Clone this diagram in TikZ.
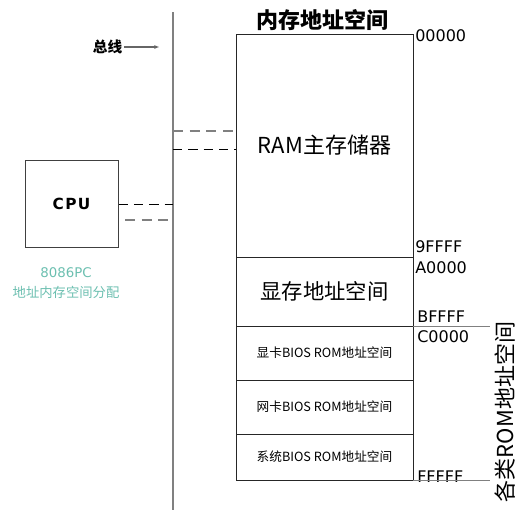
\documentclass[tikz,border=0pt]{standalone}
\usepackage{fontspec}
\setmainfont{DejaVu Sans}
\newfontfamily\cjk{Noto Sans CJK SC}
\usetikzlibrary{arrows.meta}
\definecolor{busgray}{HTML}{808080}
\definecolor{noteteal}{HTML}{6CBFB0}

\begin{document}
\begin{tikzpicture}[x=0.75pt, y=-0.75pt,
    memcell/.style={draw=black!85, line width=0.75pt, minimum width=177*0.75pt,
        inner sep=0pt, outer sep=0pt, font=\cjk\fontsize{9.5}{9.5}\selectfont},
    addr/.style={anchor=west, inner sep=0pt, font=\fontsize{12}{12}\selectfont},
    graydash/.style={busgray, line width=1.5pt, dash pattern=on 7.5pt off 5pt},
    blackdash/.style={black, line width=0.75pt, dash pattern=on 7pt off 4.5pt},
    extline/.style={busgray, line width=0.75pt}]
    \useasboundingbox (0,0) rectangle (530,515);

    % Bus
    \coordinate (bus) at (173,12);
    \coordinate (busend) at (173,510);
    \draw[busgray, line width=1.5pt] (bus) -- (busend);
    \node[inner sep=1pt, font=\cjk\bfseries\fontsize{11}{11}\selectfont] (buslbl) at (107.5,47) {总线};
    \draw[black!60, line width=1pt, -{Latex[length=4pt,width=3pt]}, shorten >=10pt]
        (buslbl.east) -- (buslbl -| bus);

    % Memory address space
    \node[font=\cjk\bfseries\fontsize{16.5}{16.5}\selectfont] (title) at (322,20) {内存地址空间};
    \node[memcell, minimum height=223*0.75pt, font=\cjk\fontsize{16.5}{16.5}\selectfont]
        (ram) at (324.5,145.5) {RAM主存储器};
    \node[memcell, minimum height=69*0.75pt, font=\cjk\fontsize{16}{16}\selectfont]
        (vram) at (324.5,291.5) {显存地址空间};
    \node[memcell, minimum height=54*0.75pt] (vgarom) at (324.5,353) {显卡BIOS ROM地址空间};
    \node[memcell, minimum height=54*0.75pt] (netrom) at (324.5,407) {网卡BIOS ROM地址空间};
    \node[memcell, minimum height=46*0.75pt] (sysrom) at (324.5,457) {系统BIOS ROM地址空间};

    % Addresses
    \node[addr] (a00000) at (415,36) {00000};
    \node[addr] (a9ffff) at (415,247) {9FFFF};
    \node[addr] (aa0000) at (415,268) {A0000};
    \node[addr] (abffff) at (417,317) {BFFFF};
    \node[addr] (ac0000) at (417,337) {C0000};
    \node[addr] (affff) at (417,477) {FFFFF};

    % ROM range
    \coordinate (romtop) at (490,326);
    \coordinate (rombot) at (490,480);
    \draw[extline] (vgarom.north east) -- (romtop);
    \draw[extline] (sysrom.south east) -- (rombot);
    \node[rotate=90, inner sep=0pt, font=\cjk\fontsize{16.5}{16.5}\selectfont]
        (romlbl) at (505,412) {各类ROM地址空间};

    % Bus to RAM
    \coordinate (r1) at (173,131);
    \coordinate (r2) at (173,149);
    \draw[graydash] (r1) -- (r1 -| ram.west);
    \draw[blackdash] (r2) -- (r2 -| ram.west);

    % CPU
    \node[draw=black!75, line width=0.75pt, minimum width=93*0.75pt, minimum height=87*0.75pt,
        font=\bfseries\fontsize{11.5}{11.5}\selectfont] (cpu) at (71.5,203.5)
        {C\hspace{1pt}P\hspace{1pt}U};
    \coordinate (c1) at (173,204);
    \coordinate (c2) at (125,220);
    \draw[blackdash] (c1 -| cpu.east) -- (c1);
    \draw[graydash] (c2) -- (c2 -| bus);
    \node[noteteal, align=center, font=\fontsize{10}{15}\selectfont] (note) at (66,283)
        {8086PC\\{\cjk 地址内存空间分配}};
\end{tikzpicture}
\end{document}
